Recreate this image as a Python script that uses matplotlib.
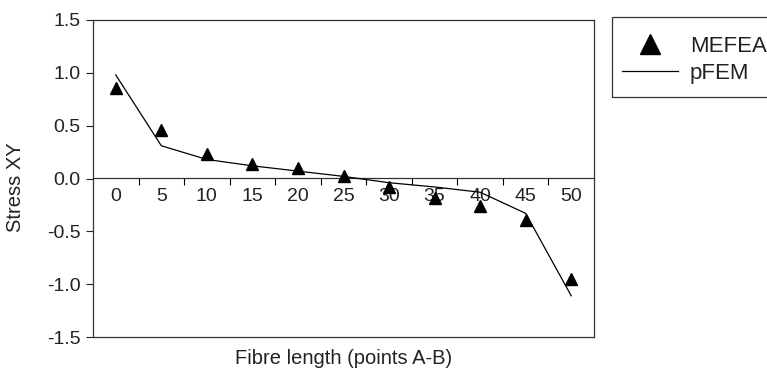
import matplotlib.pyplot as plt
from matplotlib.patches import Rectangle
import numpy as np

plt.rcParams["font.family"] = ["Liberation Sans", "DejaVu Sans"]

categories = ["0", "5", "10", "15", "20", "25", "30", "35", "40", "45", "50"]
mefea = [0.86, 0.46, 0.23, 0.14, 0.10, 0.02, -0.08, -0.18, -0.26, -0.39, -0.95]
pfem = [0.98, 0.31, 0.18, 0.12, 0.07, 0.02, -0.04, -0.08, -0.13, -0.33, -1.11]

x = np.arange(len(categories))

fig = plt.figure(figsize=(7.67, 3.70), dpi=100)
ax = fig.add_axes([93 / 767, 1 - 337 / 370, 501 / 767, 317 / 370])

ax.plot(x, mefea, linestyle="none", marker="^", markersize=9, color="black",
        label="MEFEA")
ax.plot(x, pfem, color="black", linewidth=0.9, label="pFEM")

ax.set_xlim(-0.5, len(categories) - 0.5)
ax.set_ylim(-1.5, 1.5)
ax.set_yticks(np.arange(-1.5, 1.51, 0.5))
ax.set_yticklabels(["-1.5", "-1.0", "-0.5", "0.0", "0.5", "1.0", "1.5"])
ax.tick_params(axis="y", direction="out", length=5, labelsize=14, width=0.8,
               colors="#222222", pad=4)
ax.tick_params(axis="x", bottom=False, labelbottom=False)
for s in ax.spines.values():
    s.set_linewidth(0.9)
    s.set_color("#333333")

# category axis through zero
sec = ax.secondary_xaxis(0.5)
sec.set_alignment("bottom")
sec.set_xticks(np.arange(0.5, len(categories) - 1, 1.0))
sec.set_xticklabels([])
sec.set_xticks(x, minor=True)
sec.set_xticklabels(categories, minor=True)
sec.tick_params(axis="x", which="major", direction="out", length=5, width=0.8)
sec.tick_params(axis="x", which="minor", length=0, labelsize=14, pad=7,
                colors="#222222")
sec.spines["bottom"].set_linewidth(0.9)
sec.spines["bottom"].set_color("#333333")

ax.set_ylabel("Stress XY", fontsize=14.5, color="#222222")
ax.yaxis.set_label_coords(-0.135, 0.473)
fig.text(344 / 767, 1 - 358 / 370, "Fibre length (points A-B)", fontsize=14.5,
         ha="center", va="center", color="#222222")

# legend box runs off the right edge like the original
fig.patches.append(Rectangle((612 / 767, 1 - 97 / 370), 180 / 767, 80 / 370,
                             transform=fig.transFigure, fill=False,
                             edgecolor="#333333", linewidth=0.9))
leg = ax.legend(loc="upper left", bbox_to_anchor=(622 / 767, 1 - 36 / 370),
                bbox_transform=fig.transFigure, borderaxespad=0, borderpad=0,
                fontsize=16, handlelength=2.5, handletextpad=0.55,
                labelspacing=0.25, markerscale=1.6, frameon=False)
for t in leg.get_texts():
    t.set_color("#222222")

fig.savefig("out.png", dpi=100)
